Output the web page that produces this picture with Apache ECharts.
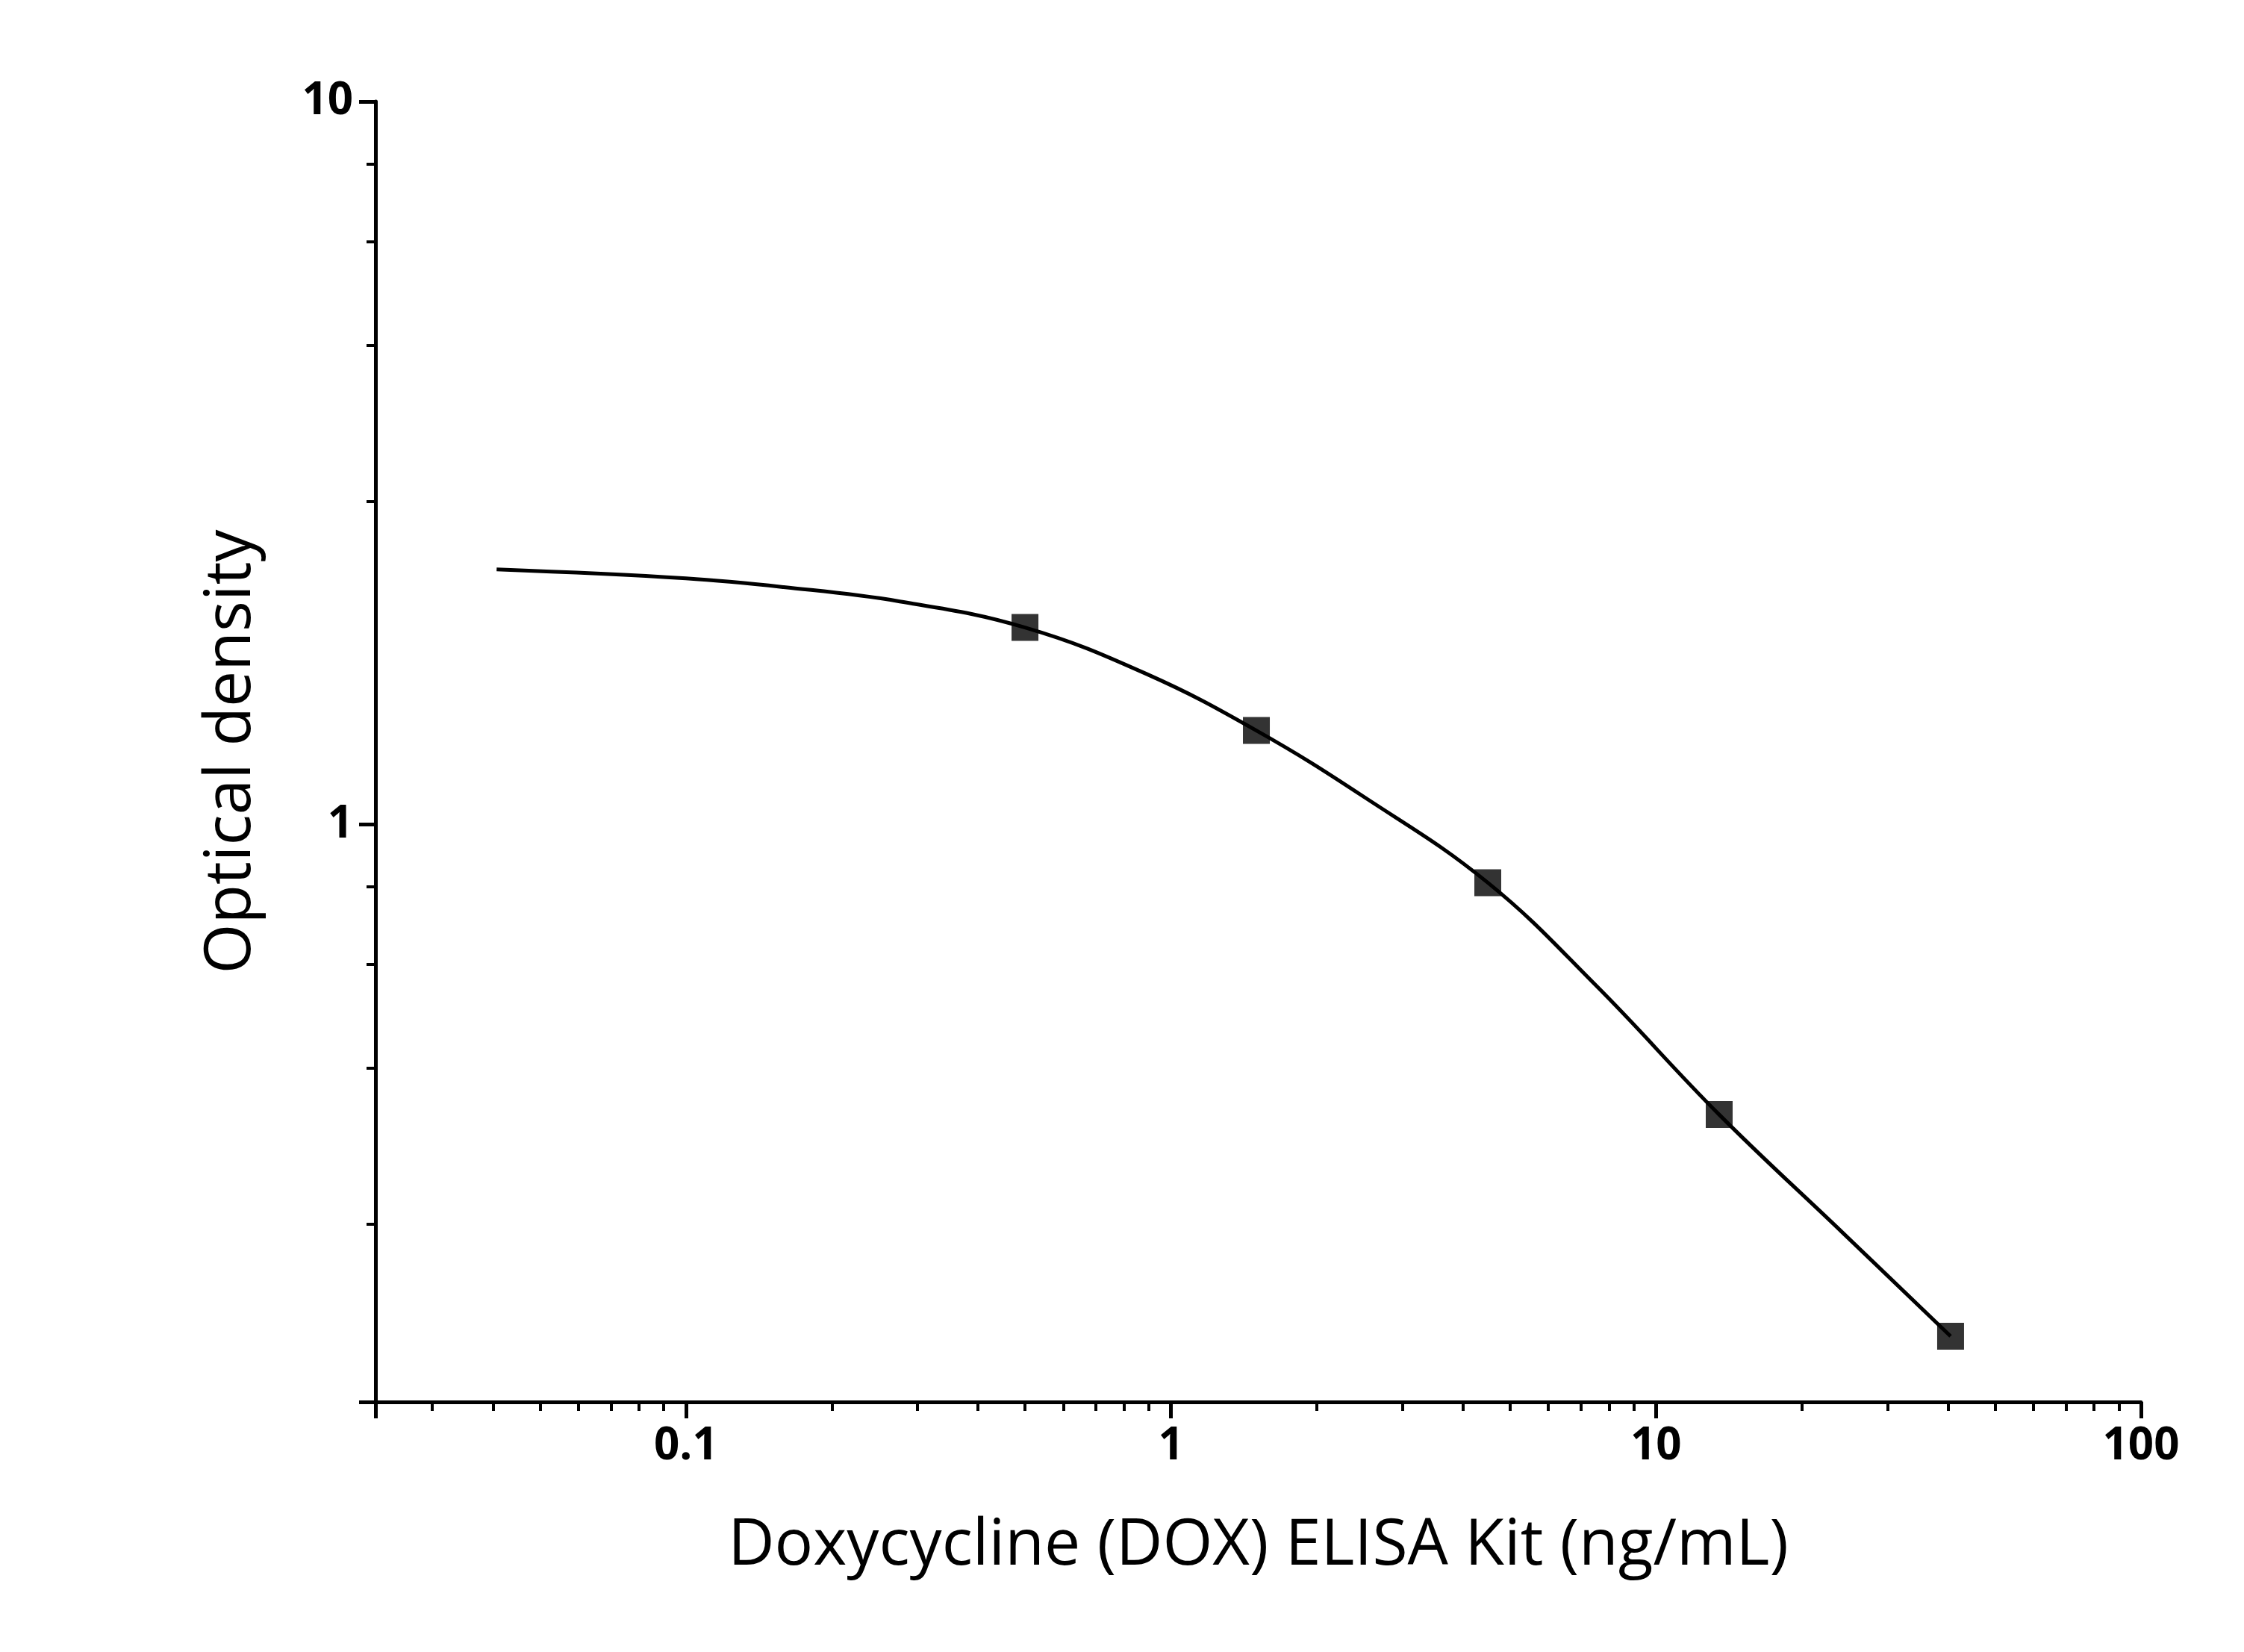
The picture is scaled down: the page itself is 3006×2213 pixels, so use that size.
<!DOCTYPE html>
<html>
<head>
<meta charset="UTF-8">
<script src="https://cdn.jsdelivr.net/npm/echarts@6/dist/echarts.min.js"></script>
<style>html,body{margin:0;height:100%;background:#fff}#main{width:3006px;height:2213px}</style>
</head>
<body>
<div id="main"></div>
<script>
// standard points
var pointX = [0.5, 1.5, 4.5, 13.5, 40.5];
var pointY = [1.873, 1.349, 0.831, 0.397, 0.196];
// fitted curve
var curveX = [0.0407, 0.1, 0.159, 0.276, 0.5, 0.889, 1.5, 2.5, 4.5, 7.52, 13.5, 24.2, 40.5];
var curveY = [2.253, 2.19, 2.13, 2.035, 1.873, 1.616, 1.349, 1.092, 0.831, 0.599, 0.397, 0.273, 0.196];
var xLabels = { 0.1: '0.1', 1: '1', 10: '10', 100: '100' };

var chart = echarts.init(document.getElementById('main'));
var font = 'Open Sans, Noto Sans, sans-serif';
var lineStyle = { color: '#000', width: 5 };
chart.setOption({
    animation: false,
    grid: { left: 503, right: 138, top: 136, bottom: 335 },
    xAxis: {
        type: 'log', min: 0.0229, max: 100, logBase: 10,
        name: 'Doxycycline (DOX) ELISA Kit (ng/mL)', nameLocation: 'middle', nameGap: 150,
        nameTextStyle: { fontSize: 86, fontFamily: font, color: '#000' },
        axisLine: { lineStyle: lineStyle },
        axisTick: { inside: false, length: 22, lineStyle: lineStyle },
        minorTick: { show: true, splitNumber: 9, length: 12, lineStyle: { color: '#000', width: 4 } },
        splitLine: { show: false },
        axisLabel: {
            fontSize: 60, fontWeight: 'bold', color: '#000', fontFamily: font, margin: 30,
            showMinLabel: false,
            formatter: function (v) { return xLabels[v] || ''; }
        }
    },
    yAxis: {
        type: 'log', min: 0.159, max: 10, logBase: 10,
        name: 'Optical density', nameLocation: 'middle', nameGap: 150,
        nameTextStyle: { fontSize: 86, fontFamily: font, color: '#000' },
        axisLine: { show: true, lineStyle: lineStyle },
        axisTick: { show: true, length: 22, lineStyle: lineStyle },
        minorTick: { show: true, splitNumber: 5, length: 12, lineStyle: { color: '#000', width: 4 } },
        splitLine: { show: false },
        axisLabel: {
            fontSize: 60, fontWeight: 'bold', color: '#000', fontFamily: font, margin: 30,
            showMinLabel: false,
            formatter: function (v) { return (v === 1 || v === 10) ? String(v) : ''; }
        }
    },
    series: [
        {
            type: 'line', smooth: 0.4, showSymbol: false,
            lineStyle: { color: '#000', width: 5 },
            data: curveX.map(function (x, i) { return [x, curveY[i]]; })
        },
        {
            type: 'scatter', symbol: 'rect', symbolSize: 36,
            itemStyle: { color: '#000' },
            data: pointX.map(function (x, i) { return [x, pointY[i]]; })
        }
    ]
});
</script>
</body>
</html>
